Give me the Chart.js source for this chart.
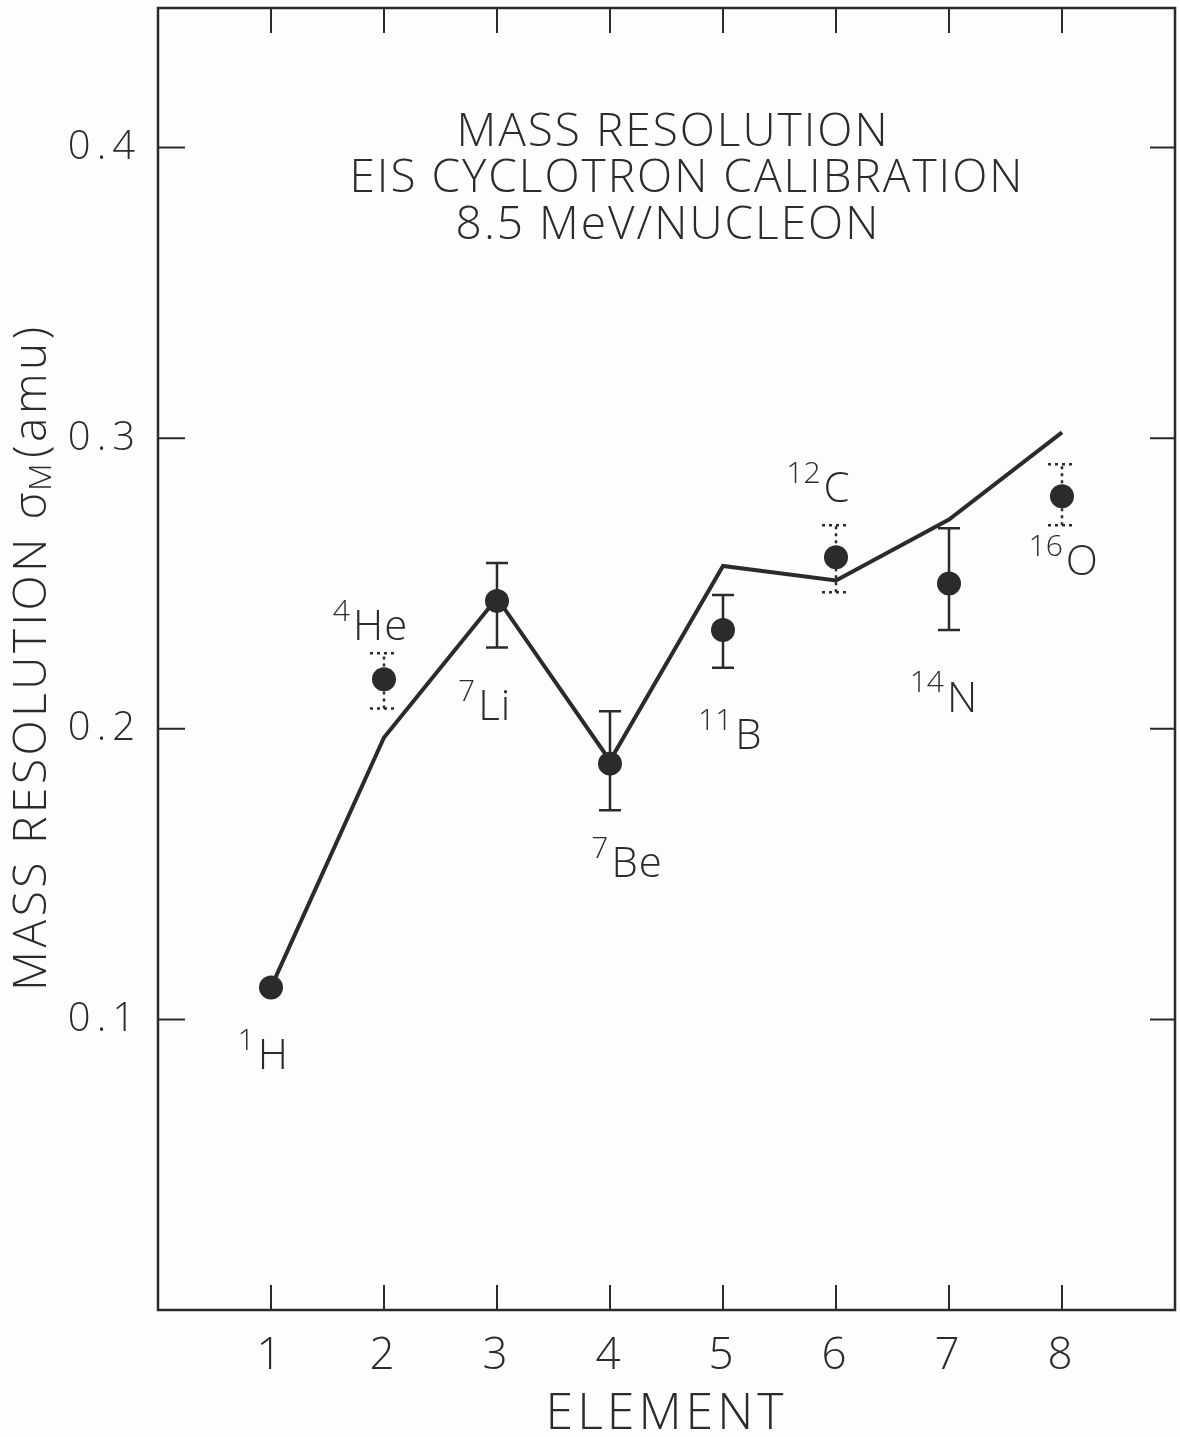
<!DOCTYPE html>
<html>
<head>
<meta charset="utf-8">
<script src="https://cdn.jsdelivr.net/npm/chart.js@4"></script>
<style>
  body { margin: 0; background: #fdfdfd; }
  #wrap { width: 1180px; height: 1437px; }
</style>
</head>
<body>
<div id="wrap"><canvas id="c" width="1180" height="1437"></canvas></div>
<script>
// data
const elementNo   = [1, 2, 3, 4, 5, 6, 7, 8];
const symbols     = ['H', 'He', 'Li', 'Be', 'B', 'C', 'N', 'O'];
const massNumbers = ['1', '4', '7', '7', '11', '12', '14', '16'];
const measured    = [0.111, 0.217, 0.244, 0.188, 0.234, 0.259, 0.250, 0.280];
const errLow      = [null, 0.207, 0.228, 0.172, 0.221, 0.247, 0.234, 0.270];
const errHigh     = [null, 0.226, 0.257, 0.206, 0.246, 0.270, 0.269, 0.291];
const dottedErr   = [false, true, false, false, false, true, false, true];
const predicted   = [0.111, 0.197, 0.245, 0.189, 0.256, 0.251, 0.272, 0.302];
const xTicks = [1, 2, 3, 4, 5, 6, 7, 8];
const yTicks = [0.1, 0.2, 0.3, 0.4];

// where the isotope labels sit (data units)
const labelX = [1.02, 1.97, 2.98, 4.24, 5.23, 6.01, 7.12, 8.18];
const labelY = [0.087, 0.2345, 0.207, 0.153, 0.197, 0.282, 0.210, 0.257];

const ink = '#2b2b2b';
const FONT = '"Open Sans", Lato, "DejaVu Sans", sans-serif';
Chart.defaults.font.family = FONT;
Chart.defaults.font.weight = 300;
Chart.defaults.color = ink;

// the old lettering is wide-spaced; y tick labels (z:1) are drawn last
const spacing = {
  id: 'spacing',
  beforeDraw(chart) { chart.ctx.save(); chart.ctx.letterSpacing = '4px'; },
  beforeDatasetsDraw(chart) { chart.ctx.restore(); },
  afterDraw(chart) { chart.ctx.letterSpacing = '0px'; }
};

const figure = {
  id: 'figure',
  afterDatasetsDraw(chart) {
    const ctx = chart.ctx, xs = chart.scales.x, ys = chart.scales.y;
    const a = chart.chartArea;
    ctx.save();
    ctx.strokeStyle = ink;
    ctx.fillStyle = ink;

    // error bars
    elementNo.forEach((e, i) => {
      if (errLow[i] == null) return;
      const px = xs.getPixelForValue(e);
      const lo = ys.getPixelForValue(errLow[i]);
      const hi = ys.getPixelForValue(errHigh[i]);
      const w = dottedErr[i] ? 14 : 11;
      ctx.lineWidth = 2.5;
      ctx.setLineDash(dottedErr[i] ? [3, 4] : []);
      ctx.beginPath();
      ctx.moveTo(px, lo); ctx.lineTo(px, hi);
      ctx.moveTo(px - w, lo); ctx.lineTo(px + w, lo);
      ctx.moveTo(px - w, hi); ctx.lineTo(px + w, hi);
      ctx.stroke();
    });
    ctx.setLineDash([]);

    // frame + inward ticks
    ctx.lineWidth = 2.5;
    ctx.strokeRect(a.left, a.top, a.right - a.left, a.bottom - a.top);
    ctx.lineWidth = 2;
    ctx.beginPath();
    xTicks.forEach(v => {
      const px = xs.getPixelForValue(v);
      ctx.moveTo(px, a.top); ctx.lineTo(px, a.top + 25);
      ctx.moveTo(px, a.bottom); ctx.lineTo(px, a.bottom - 25);
    });
    yTicks.forEach(v => {
      const py = ys.getPixelForValue(v);
      ctx.moveTo(a.left, py); ctx.lineTo(a.left + 27, py);
      ctx.moveTo(a.right, py); ctx.lineTo(a.right - 25, py);
    });
    ctx.stroke();

    // isotope labels
    ctx.textBaseline = 'middle';
    symbols.forEach((s, i) => {
      const cx = xs.getPixelForValue(labelX[i]);
      const cy = ys.getPixelForValue(labelY[i]);
      ctx.letterSpacing = '1px';
      ctx.font = '300 42px ' + FONT;
      ctx.textAlign = 'center';
      ctx.fillText(s, cx, cy);
      const w = ctx.measureText(s).width;
      ctx.letterSpacing = '0px';
      ctx.font = '300 30px ' + FONT;
      ctx.textAlign = 'right';
      ctx.fillText(massNumbers[i], cx - w / 2 - 3, cy - 16);
    });

    // caption inside the frame
    ctx.textAlign = 'center';
    ctx.letterSpacing = '2px';
    ctx.font = '300 46px ' + FONT;
    const mid = a.left + 517;
    ctx.fillText('MASS RESOLUTION', mid - 2, a.top + 125);
    ctx.fillText('EIS CYCLOTRON CALIBRATION', mid + 12, a.top + 171);
    ctx.fillText('8.5 MeV/NUCLEON', mid - 7, a.top + 218);

    // y axis title with subscript
    ctx.letterSpacing = '3.5px';
    ctx.translate(33, 657);
    ctx.rotate(-Math.PI / 2);
    const big = '300 46px ' + FONT, small = '300 32px ' + FONT;
    const p1 = 'MASS RESOLUTION σ', p2 = 'M', p3 = '(amu)';
    ctx.font = big; const w1 = ctx.measureText(p1).width, w3 = ctx.measureText(p3).width;
    ctx.font = small; const w2 = ctx.measureText(p2).width;
    const x0 = -(w1 + w2 + w3) / 2;
    ctx.textAlign = 'left';
    ctx.font = big; ctx.fillText(p1, x0, 0);
    ctx.font = small; ctx.fillText(p2, x0 + w1 - 2, 9);
    ctx.font = big; ctx.fillText(p3, x0 + w1 + w2, 0);
    ctx.restore();
    ctx.letterSpacing = '6px';
  }
};

new Chart(document.getElementById('c'), {
  type: 'scatter',
  data: {
    datasets: [
      {
        label: 'measured',
        data: elementNo.map((e, i) => ({ x: e, y: measured[i] })),
        pointRadius: 12,
        pointBackgroundColor: ink,
        pointBorderWidth: 0,
        order: 1
      },
      {
        label: 'predicted',
        data: elementNo.map((e, i) => ({ x: e, y: predicted[i] })),
        showLine: true,
        borderColor: ink,
        borderWidth: 4,
        pointRadius: 0,
        order: 2
      }
    ]
  },
  options: {
    responsive: false,
    animation: false,
    layout: { autoPadding: false, padding: { top: 8, right: 5 } },
    plugins: { legend: { display: false }, tooltip: { enabled: false } },
    scales: {
      x: {
        type: 'linear', min: 0, max: 9,
        afterBuildTicks: s => { s.ticks = xTicks.map(v => ({ value: v })); },
        afterFit: s => { s.height = 127; s.paddingLeft = 0; s.paddingRight = 0; },
        grid: { display: false, drawTicks: false },
        border: { display: false },
        ticks: { autoSkip: false, maxRotation: 0, padding: 20, font: { size: 44 } },
        title: { display: true, text: 'ELEMENT', font: { size: 50 }, padding: { top: 0, bottom: -8 } }
      },
      y: {
        min: 0, max: 0.448,
        afterBuildTicks: s => { s.ticks = yTicks.map(v => ({ value: v })); },
        afterFit: s => { s.width = 158; s.paddingTop = 0; s.paddingBottom = 0; },
        grid: { display: false, drawTicks: false, z: 0 },
        border: { display: false },
        ticks: { z: 1, padding: 17, font: { size: 40 }, callback: v => v.toFixed(1) }
      }
    }
  },
  plugins: [spacing, figure]
});
</script>
</body>
</html>
